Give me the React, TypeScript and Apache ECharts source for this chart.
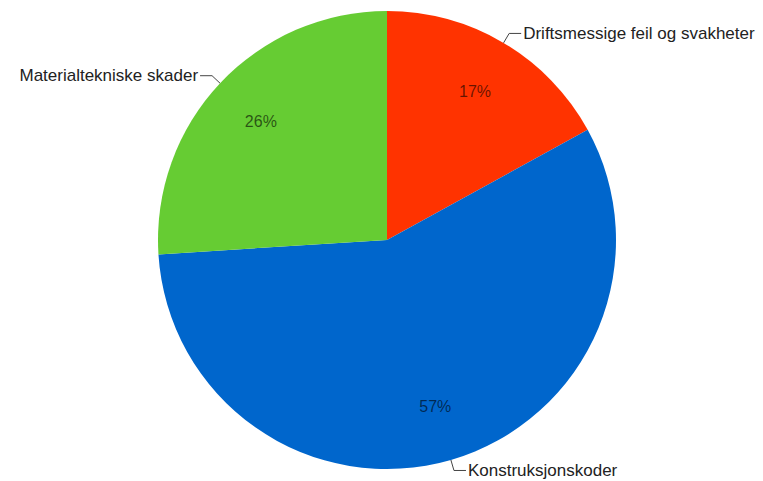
import React, { useEffect, useRef } from "react";
import * as echarts from "echarts";

const categories = [
  "Driftsmessige feil og svakheter",
  "Konstruksjonskoder",
  "Materialtekniske skader",
];
const values = [17, 57, 26];
const colors = ["#FF3300", "#0066CC", "#66CC33"];

export default function App() {
  const ref = useRef<HTMLDivElement>(null);
  useEffect(() => {
    if (!ref.current) return;
    const chart = echarts.init(ref.current, undefined, { renderer: "svg" });
    const data = categories.map((name, i) => ({
      name,
      value: values[i],
      itemStyle: { color: colors[i] },
    }));
    const font = "'Liberation Sans', Arial, sans-serif";
    chart.setOption({
      animation: false,
      backgroundColor: "#ffffff",
      series: [
        {
          type: "pie",
          center: [387, 240],
          radius: [0, 229],
          startAngle: 90,
          clockwise: true,
          avoidLabelOverlap: false,
          silent: true,
          data,
          itemStyle: { borderWidth: 0 },
          label: {
            show: true,
            position: "outside",
            formatter: "{b}",
            color: "#222",
            fontSize: 17,
            fontFamily: font,
            alignTo: "none",
            distanceToLabelLine: 2,
          },
          labelLine: {
            show: true,
            length: 11,
            length2: 12,
            lineStyle: { color: "#444", width: 1 },
          },
          emphasis: { disabled: true },
        },
        {
          type: "pie",
          center: [387, 240],
          radius: [0, 340],
          startAngle: 90,
          clockwise: true,
          silent: true,
          data: categories.map((name, i) => ({
            name,
            value: values[i],
            itemStyle: { color: "rgba(0,0,0,0)" },
          })),
          label: {
            show: true,
            position: "inside",
            formatter: (p: any) => Math.round(p.percent) + "%",
            color: "rgba(0,0,0,0.6)",
            fontSize: 16,
            fontFamily: font,
          },
          labelLine: { show: false },
          emphasis: { disabled: true },
        },
      ],
    });
    return () => chart.dispose();
  }, []);
  return (
    <div
      ref={ref}
      style={{ position: "absolute", left: 0, top: 0, width: 763, height: 481 }}
    />
  );
}
